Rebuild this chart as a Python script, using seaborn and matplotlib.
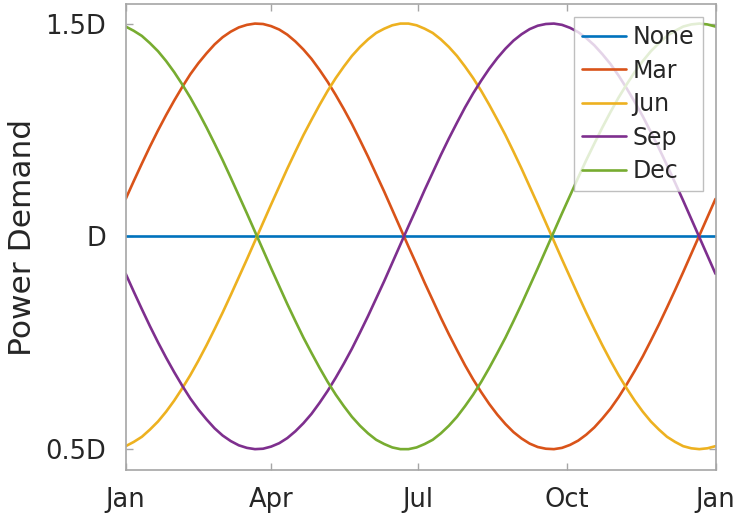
import matplotlib
matplotlib.use("Agg")
import matplotlib.pyplot as plt
import seaborn as sns
import pandas as pd

days = list(range(0, 361, 5)) + [365]

mar_vals = [1.088, 1.130, 1.171, 1.211, 1.249, 1.285, 1.319, 1.351, 1.381, 1.407,
            1.430, 1.451, 1.468, 1.481, 1.491, 1.497, 1.500, 1.499, 1.494, 1.486,
            1.474, 1.458, 1.439, 1.417, 1.391, 1.363, 1.332, 1.299, 1.264, 1.226,
            1.187, 1.146, 1.105, 1.062, 1.019, 0.976, 0.934, 0.891, 0.850, 0.809,
            0.770, 0.733, 0.697, 0.664, 0.634, 0.606, 0.581, 0.559, 0.540, 0.525,
            0.513, 0.505, 0.501, 0.500, 0.503, 0.510, 0.520, 0.534, 0.551, 0.572,
            0.595, 0.622, 0.652, 0.684, 0.718, 0.755, 0.793, 0.833, 0.874, 0.916,
            0.959, 1.002, 1.045, 1.088]
sep_vals = [0.912, 0.870, 0.829, 0.789, 0.751, 0.715, 0.681, 0.649, 0.619, 0.593,
            0.570, 0.549, 0.532, 0.519, 0.509, 0.503, 0.500, 0.501, 0.506, 0.514,
            0.526, 0.542, 0.561, 0.583, 0.609, 0.637, 0.668, 0.701, 0.736, 0.774,
            0.813, 0.854, 0.895, 0.938, 0.981, 1.024, 1.066, 1.109, 1.150, 1.191,
            1.230, 1.267, 1.303, 1.336, 1.366, 1.394, 1.419, 1.441, 1.460, 1.475,
            1.487, 1.495, 1.499, 1.500, 1.497, 1.490, 1.480, 1.466, 1.449, 1.428,
            1.405, 1.378, 1.348, 1.316, 1.282, 1.245, 1.207, 1.167, 1.126, 1.084,
            1.041, 0.998, 0.955, 0.912]
dec_vals = [1.493, 1.483, 1.471, 1.454, 1.435, 1.412, 1.386, 1.357, 1.326, 1.292,
            1.256, 1.218, 1.179, 1.138, 1.096, 1.054, 1.011, 0.968, 0.925, 0.883,
            0.841, 0.801, 0.762, 0.726, 0.691, 0.658, 0.628, 0.601, 0.576, 0.555,
            0.537, 0.522, 0.512, 0.504, 0.500, 0.500, 0.504, 0.512, 0.522, 0.537,
            0.555, 0.576, 0.601, 0.628, 0.658, 0.691, 0.726, 0.762, 0.801, 0.841,
            0.883, 0.925, 0.968, 1.011, 1.054, 1.096, 1.138, 1.179, 1.218, 1.256,
            1.292, 1.326, 1.357, 1.386, 1.412, 1.435, 1.454, 1.471, 1.483, 1.493,
            1.498, 1.500, 1.498, 1.493]
jun_vals = [0.507, 0.517, 0.529, 0.546, 0.565, 0.588, 0.614, 0.643, 0.674, 0.708,
            0.744, 0.782, 0.821, 0.862, 0.904, 0.946, 0.989, 1.032, 1.075, 1.117,
            1.159, 1.199, 1.238, 1.274, 1.309, 1.342, 1.372, 1.399, 1.424, 1.445,
            1.463, 1.478, 1.488, 1.496, 1.500, 1.500, 1.496, 1.488, 1.478, 1.463,
            1.445, 1.424, 1.399, 1.372, 1.342, 1.309, 1.274, 1.238, 1.199, 1.159,
            1.117, 1.075, 1.032, 0.989, 0.946, 0.904, 0.862, 0.821, 0.782, 0.744,
            0.708, 0.674, 0.643, 0.614, 0.588, 0.565, 0.546, 0.529, 0.517, 0.507,
            0.502, 0.500, 0.502, 0.507]
none_vals = [1.0] * len(days)

series_names = ["None", "Mar", "Jun", "Sep", "Dec"]
colors = ["#0072BD", "#D95319", "#EDB120", "#7E2F8E", "#77AC30"]

xtick_pos = [0, 90, 181, 273, 365]
xtick_labels = ["Jan", "Apr", "Jul", "Oct", "Jan"]
ytick_pos = [0.5, 1.0, 1.5]
ytick_labels = ["0.5D", "D", "1.5D"]

frames = []
for name, vals in zip(series_names, [none_vals, mar_vals, jun_vals, sep_vals, dec_vals]):
    n = min(len(days), len(vals))
    frames.append(pd.DataFrame({"day": days[:n], "demand": vals[:n], "series": name}))
df = pd.concat(frames, ignore_index=True)

sns.set_style("white")
plt.rcParams["font.family"] = ["DejaVu Sans"]

fig = plt.figure(figsize=(7.37, 5.19), dpi=100)
ax = fig.add_axes([125.7 / 737, 1 - 470 / 519, (715.5 - 125.7) / 737, (470 - 4) / 519])

sns.lineplot(data=df, x="day", y="demand", hue="series", hue_order=series_names,
             palette=dict(zip(series_names, colors)), linewidth=1.9, ax=ax,
             estimator=None, sort=False)

ax.set_xlim(0, 365)
ax.set_ylim(0.451, 1.546)
ax.set_xticks(xtick_pos)
ax.set_xticklabels(xtick_labels)
ax.set_yticks(ytick_pos)
ax.set_yticklabels(ytick_labels)
ax.set_xlabel("")
ax.set_ylabel("Power Demand", fontsize=22.5, color="#262626")
ax.yaxis.set_label_coords(-37.0 / 589.8 - 52.0 / 589.8, 0.5)

for s in ax.spines.values():
    s.set_visible(True)
    s.set_color("#a6a6a6")
    s.set_linewidth(1.2)
ax.tick_params(direction="in", length=5, width=1.0, color="#a6a6a6",
               labelsize=18.5, labelcolor="#262626", top=True, right=True,
               bottom=True, left=True)
ax.tick_params(axis="x", pad=12)
ax.tick_params(axis="y", pad=14)

leg = ax.legend(loc="upper right", fontsize=17, frameon=True, fancybox=False,
                handlelength=1.85, handletextpad=0.3, labelspacing=0.40,
                borderpad=0.35, borderaxespad=0.55, edgecolor="#b0b0b0")
leg.get_frame().set_linewidth(1.0)
for t in leg.get_texts():
    t.set_color("#262626")

fig.savefig("out.png", dpi=100)
